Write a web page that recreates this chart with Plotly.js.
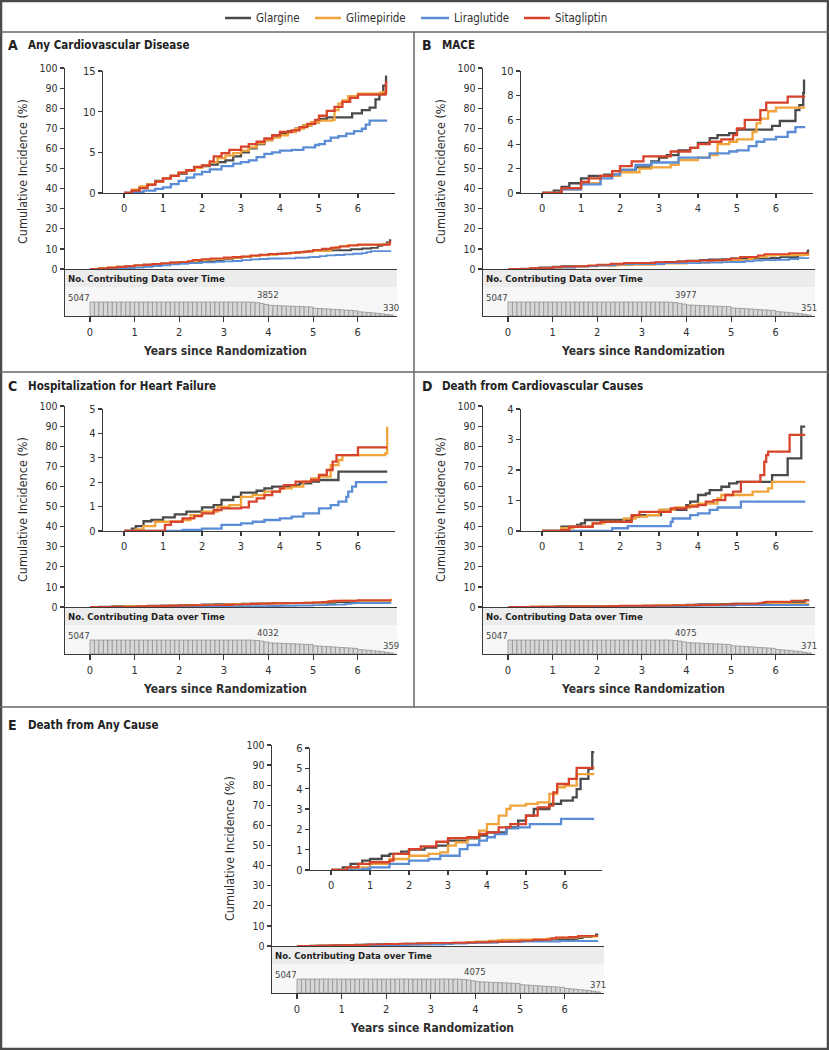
<!DOCTYPE html>
<html><head><meta charset="utf-8">
<script src="https://cdn.plot.ly/plotly-3.0.1.min.js"></script>
<style>html,body{margin:0;padding:0;background:#fff}</style>
</head><body>
<div id="chart" style="width:829px;height:1050px"></div>
<script>
// ---------------- DATA ----------------
const seriesNames = ['Glargine', 'Glimepiride', 'Liraglutide', 'Sitagliptin'];
const seriesColors = ['#4a4a4a', '#f0a43a', '#5b8dd6', '#d8432b'];
const xTicks = [0, 1, 2, 3, 4, 5, 6];

// Panel A: Any Cardiovascular Disease
const aGlargineT = [0,0.2,0.4,0.6,0.8,1.0,1.2,1.4,1.6,1.8,2.0,2.2,2.4,2.6,2.8,3.0,3.2,3.4,3.6,3.8,4.0,4.2,4.4,4.6,4.8,5.0,5.2,5.85,6.1,6.3,6.45,6.55,6.65,6.72,6.75];
const aGlargineY = [0,0.3,0.7,1.1,1.5,1.8,2.1,2.4,2.8,3.1,3.3,3.5,3.8,4.0,4.5,5.0,5.5,6.0,6.5,6.9,7.3,7.6,7.9,8.3,8.7,9.1,9.3,9.8,10.2,10.5,11.5,12.2,13.2,14.3,14.3];
const aGlimepirideT = [0,0.2,0.4,0.6,0.8,1.0,1.2,1.4,1.6,1.8,2.0,2.2,2.4,2.6,2.8,3.0,3.2,3.4,3.6,3.8,4.0,4.2,4.4,4.6,4.8,5.0,5.35,5.4,5.5,5.6,5.75,6.0,6.6,6.72,6.75];
const aGlimepirideY = [0,0.4,0.8,1.1,1.4,1.8,2.1,2.5,2.8,3.1,3.4,3.8,4.3,4.6,4.9,5.2,5.6,6.1,6.5,6.8,7.1,7.5,7.9,8.3,8.7,8.9,9.0,10.2,11.0,11.4,11.9,12.2,12.4,13.0,13.0];
const aLiraglutideT = [0,0.3,0.5,0.8,1.0,1.2,1.4,1.6,1.8,2.0,2.2,2.5,2.8,3.0,3.2,3.4,3.6,3.8,4.0,4.3,4.6,4.9,5.0,5.15,5.3,5.5,5.7,5.9,6.1,6.2,6.3,6.75];
const aLiraglutideY = [0,0.1,0.3,0.5,0.7,1.1,1.5,1.9,2.3,2.6,2.9,3.3,3.6,3.8,4.0,4.4,4.8,5.0,5.2,5.3,5.6,5.9,6.0,6.4,6.8,7.0,7.3,7.6,7.9,8.4,8.9,8.9];
const aSitagliptinT = [0,0.2,0.4,0.6,0.8,1.0,1.2,1.4,1.6,1.8,2.0,2.2,2.3,2.5,2.7,3.0,3.2,3.4,3.6,3.8,4.0,4.3,4.5,4.7,4.9,5.0,5.2,5.4,5.6,5.8,6.0,6.7,6.72,6.75];
const aSitagliptinY = [0,0.3,0.6,1.0,1.4,1.8,2.1,2.5,2.8,3.2,3.4,3.9,4.5,4.9,5.3,5.7,6.0,6.3,6.7,7.1,7.5,7.7,8.1,8.5,9.0,9.5,10.1,10.6,11.2,11.7,12.1,12.2,13.6,13.6];

// Panel B: MACE
const bGlargineT = [0,0.3,0.5,0.7,1.0,1.2,1.6,2.0,2.4,2.8,3.0,3.2,3.5,3.8,4.0,4.3,4.5,4.8,5.0,5.9,6.1,6.5,6.6,6.7,6.72,6.75];
const bGlargineY = [0,0.2,0.5,0.8,1.2,1.4,1.5,1.9,2.1,2.6,2.9,3.1,3.5,3.7,4.1,4.5,4.75,4.9,5.2,5.5,5.9,6.8,7.2,8.2,9.2,9.2];
const bGlimepirideT = [0,0.5,1.0,1.5,2.0,2.5,2.8,3.3,3.5,4.0,4.3,4.5,4.8,5.0,5.4,5.5,5.6,5.8,6.0,6.75];
const bGlimepirideY = [0,0.3,0.8,1.4,1.7,2.0,2.1,2.3,2.7,2.9,3.1,4.0,4.2,4.4,5.0,5.7,6.1,6.7,7.0,7.0];
const bLiraglutideT = [0,0.5,1.0,1.5,1.8,2.0,2.4,2.8,3.5,4.3,4.8,5.0,5.3,5.5,5.7,6.0,6.3,6.5,6.75];
const bLiraglutideY = [0,0.3,0.7,1.2,1.5,1.9,2.3,2.5,2.9,3.25,3.4,3.5,3.85,4.2,4.4,4.6,5.0,5.4,5.4];
const bSitagliptinT = [0,0.5,1.0,1.2,1.5,1.8,2.0,2.3,2.6,3.3,3.8,4.0,4.3,4.6,4.9,5.0,5.2,5.6,5.75,6.3,6.75];
const bSitagliptinY = [0,0.4,0.9,1.2,1.4,1.8,2.2,2.6,3.0,3.4,3.7,4.0,4.2,4.4,4.75,5.3,6.0,6.8,7.4,7.9,7.9];

// Panel C: Hospitalization for Heart Failure
const cGlargineT = [0,0.2,0.3,0.5,0.7,1.0,1.3,1.6,2.0,2.3,2.5,2.8,3.0,3.4,3.6,3.8,4.3,4.5,4.8,5.0,5.5,6.75];
const cGlargineY = [0,0.1,0.2,0.4,0.45,0.56,0.68,0.79,0.97,1.06,1.27,1.4,1.57,1.65,1.75,1.82,1.88,1.95,2.02,2.09,2.43,2.43];
const cGlimepirideT = [0,0.3,0.5,0.8,1.5,1.7,2.0,2.4,2.7,3.0,3.3,3.6,4.0,4.3,4.6,4.8,5.0,5.3,5.5,5.6,6.7,6.75];
const cGlimepirideY = [0,0.07,0.2,0.38,0.45,0.65,0.79,0.99,1.06,1.4,1.47,1.61,1.75,1.82,2.02,2.16,2.23,2.7,2.91,3.11,3.18,4.27];
const cLiraglutideT = [0,1.0,1.5,2.0,2.5,3.0,3.3,3.6,4.0,4.3,4.6,5.0,5.3,5.5,5.7,5.75,5.85,5.95,6.75];
const cLiraglutideY = [0,0,0.04,0.1,0.25,0.31,0.38,0.45,0.52,0.59,0.72,0.93,1.06,1.2,1.4,1.61,1.82,2.0,2.0];
const cSitagliptinT = [0,1.0,1.05,1.2,1.5,1.8,2.0,2.3,2.5,3.0,3.2,3.4,3.6,3.8,4.0,4.1,4.4,4.8,5.0,5.2,5.35,5.45,6.0,6.75];
const cSitagliptinY = [0,0,0.25,0.38,0.52,0.61,0.72,0.86,0.93,0.97,1.2,1.34,1.47,1.61,1.75,1.88,2.02,2.09,2.3,2.5,2.84,3.11,3.43,3.43];

// Panel D: Death from Cardiovascular Causes
const dGlargineT = [0,0.5,0.9,1.0,1.1,2.3,2.5,3.05,3.7,3.8,4.0,4.2,4.3,4.6,4.8,5.0,5.9,6.3,6.65,6.75];
const dGlargineY = [0,0.14,0.2,0.25,0.36,0.47,0.52,0.69,0.85,0.96,1.18,1.23,1.34,1.45,1.56,1.61,1.83,2.38,3.42,3.42];
const dGlimepirideT = [0,0.5,0.8,1.3,1.6,2.1,2.4,2.7,3.0,3.4,3.8,4.0,4.5,4.6,5.4,5.8,5.9,6.75];
const dGlimepirideY = [0,0.09,0.14,0.25,0.3,0.41,0.47,0.52,0.69,0.77,0.85,0.9,1.07,1.18,1.29,1.4,1.61,1.61];
const dLiraglutideT = [0,1.8,2.2,3.3,3.35,3.8,4.0,4.3,4.5,5.1,6.75];
const dLiraglutideY = [0,0.09,0.16,0.3,0.41,0.52,0.58,0.69,0.77,0.96,0.96];
const dSitagliptinT = [0,0.5,0.7,1.3,1.5,2.3,2.5,3.3,3.7,4.0,4.2,4.4,4.7,4.9,5.1,5.6,5.7,5.75,5.8,6.35,6.75];
const dSitagliptinY = [0,0.03,0.14,0.25,0.3,0.52,0.63,0.74,0.8,0.85,0.96,1.01,1.18,1.29,1.61,1.83,2.27,2.49,2.6,3.15,3.15];

// Panel E: Death from Any Cause
const eGlargineT = [0,0.3,0.5,0.8,1.0,1.3,1.5,1.8,2.0,2.4,2.7,3.0,3.5,3.8,4.0,4.5,4.8,5.0,5.2,5.6,5.9,6.2,6.3,6.4,6.6,6.7,6.75];
const eGlargineY = [0,0.13,0.3,0.46,0.54,0.7,0.79,0.9,1.0,1.1,1.2,1.44,1.56,1.69,1.85,2.1,2.43,2.67,3.0,3.25,3.41,3.57,3.98,4.48,4.97,5.8,5.8];
const eGlimepirideT = [0,0.5,1.0,1.5,2.0,2.5,2.8,3.0,3.2,3.5,3.8,4.0,4.3,4.5,4.6,5.0,5.3,5.6,5.8,6.0,6.3,6.75];
const eGlimepirideY = [0,0.13,0.3,0.54,0.7,0.79,0.87,1.2,1.36,1.61,1.94,2.26,2.67,3.0,3.17,3.25,3.33,3.74,4.07,4.15,4.72,4.72];
const eLiraglutideT = [0,0.8,1.0,1.5,2.0,2.5,2.8,3.3,3.5,3.8,4.0,4.2,4.5,4.8,5.1,5.9,6.75];
const eLiraglutideY = [0,0.05,0.13,0.3,0.46,0.54,0.7,1.03,1.23,1.44,1.61,1.77,2.05,2.1,2.26,2.51,2.51];
const eSitagliptinT = [0,0.4,0.7,1.0,1.5,1.6,2.0,2.3,2.7,3.0,3.5,3.8,4.0,4.3,4.6,5.0,5.3,5.6,5.7,5.8,6.1,6.3,6.75];
const eSitagliptinY = [0,0.13,0.3,0.38,0.46,0.79,1.03,1.16,1.39,1.57,1.61,1.77,1.85,2.1,2.26,2.67,3.08,3.17,3.82,4.23,4.48,5.02,5.02];

// No. contributing data over time (bin start years, 0.1-year bins)
const histYears = [0,0.1,0.2,0.3,0.4,0.5,0.6,0.7,0.8,0.9,1.0,1.1,1.2,1.3,1.4,1.5,1.6,1.7,1.8,1.9,2.0,2.1,2.2,2.3,2.4,2.5,2.6,2.7,2.8,2.9,3.0,3.1,3.2,3.3,3.4,3.5,3.6,3.7,3.8,3.9,4.0,4.1,4.2,4.3,4.4,4.5,4.6,4.7,4.8,4.9,5.0,5.1,5.2,5.3,5.4,5.5,5.6,5.7,5.8,5.9,6.0,6.1,6.2,6.3,6.4,6.5,6.6,6.7];
const countsA = [5047,5047,5047,5047,5047,5047,5047,5047,5047,5047,5047,5047,5047,5047,5047,5047,5047,5047,5047,5047,5047,5047,5047,5047,5047,5047,5047,5047,5047,5047,5047,5047,5047,5047,5047,5047,4950,4800,4500,4200,3852,3800,3720,3650,3600,3520,3450,3400,3320,3250,2800,2700,2600,2520,2400,2300,2200,2100,2000,1900,1500,1380,1250,1100,950,800,560,330];
const countsB = [5047,5047,5047,5047,5047,5047,5047,5047,5047,5047,5047,5047,5047,5047,5047,5047,5047,5047,5047,5047,5047,5047,5047,5047,5047,5047,5047,5047,5047,5047,5047,5047,5047,5047,5047,5047,4960,4850,4600,4300,3977,3920,3850,3780,3720,3650,3580,3520,3450,3380,2900,2800,2700,2620,2500,2400,2300,2200,2100,1980,1580,1450,1310,1160,1000,840,590,351];
const countsC = [5047,5047,5047,5047,5047,5047,5047,5047,5047,5047,5047,5047,5047,5047,5047,5047,5047,5047,5047,5047,5047,5047,5047,5047,5047,5047,5047,5047,5047,5047,5047,5047,5047,5047,5047,5047,4970,4870,4650,4350,4032,3970,3900,3830,3770,3700,3630,3570,3500,3420,2950,2850,2750,2660,2540,2440,2340,2240,2130,2010,1600,1470,1330,1180,1020,860,600,359];
const countsDE = [5047,5047,5047,5047,5047,5047,5047,5047,5047,5047,5047,5047,5047,5047,5047,5047,5047,5047,5047,5047,5047,5047,5047,5047,5047,5047,5047,5047,5047,5047,5047,5047,5047,5047,5047,5047,4980,4880,4680,4380,4075,4010,3940,3870,3800,3730,3660,3600,3530,3450,2980,2880,2780,2690,2570,2470,2360,2260,2150,2030,1620,1490,1350,1200,1040,870,610,371];

// ---------------- DRAWING ----------------
const FONT = "'Liberation Sans Narrow','DejaVu Sans Condensed','Arial Narrow',sans-serif";
const W = 829, H = 1050;
const fx = p => p / W;
const fy = p => 1 - p / H;
const AX = '#3a3a3a', TXT = '#2f2f2f';

const panels = [
  {letter:'A', title:'Any Cardiovascular Disease', left:0, dx:0, dy:0, titleY:45, ymax:15, dtick:5, counts:countsA,
   T:[aGlargineT,aGlimepirideT,aLiraglutideT,aSitagliptinT], Y:[aGlargineY,aGlimepirideY,aLiraglutideY,aSitagliptinY]},
  {letter:'B', title:'MACE', left:414, dx:418, dy:0, titleY:45, ymax:10, dtick:2, counts:countsB,
   T:[bGlargineT,bGlimepirideT,bLiraglutideT,bSitagliptinT], Y:[bGlargineY,bGlimepirideY,bLiraglutideY,bSitagliptinY]},
  {letter:'C', title:'Hospitalization for Heart Failure', left:0, dx:0, dy:338, titleY:386, ymax:5, dtick:1, counts:countsC,
   T:[cGlargineT,cGlimepirideT,cLiraglutideT,cSitagliptinT], Y:[cGlargineY,cGlimepirideY,cLiraglutideY,cSitagliptinY]},
  {letter:'D', title:'Death from Cardiovascular Causes', left:414, dx:418, dy:338, titleY:386, ymax:4, dtick:1, counts:countsDE,
   T:[dGlargineT,dGlimepirideT,dLiraglutideT,dSitagliptinT], Y:[dGlargineY,dGlimepirideY,dLiraglutideY,dSitagliptinY]},
  {letter:'E', title:'Death from Any Cause', left:0, dx:207, dy:677, titleY:725, ymax:6, dtick:1, counts:countsDE,
   T:[eGlargineT,eGlimepirideT,eLiraglutideT,eSitagliptinT], Y:[eGlargineY,eGlimepirideY,eLiraglutideY,eSitagliptinY]}
];

const traces = [];
const shapes = [];
const annotations = [];
const layout = {
  width: W, height: H, margin: {l:0, r:0, t:0, b:0},
  paper_bgcolor: '#fff', plot_bgcolor: 'rgba(0,0,0,0)',
  showlegend: false, font: {family: FONT, color: TXT, size: 11}
};

const MAIN_X = [-0.56, 6.88], INSET_X = [-0.54, 6.95];
const HIST_MAX = 16600;

function baseAxis(extra) {
  return Object.assign({showline:true, linecolor:AX, linewidth:1.3, showgrid:false, zeroline:false,
    ticks:'outside', tickcolor:AX, tickwidth:1.2, ticklen:4, fixedrange:true,
    tickfont:{family:FONT, size:11, color:TXT}}, extra);
}

panels.forEach((p, i) => {
  const n1 = 3*i+1, n2 = 3*i+2, n3 = 3*i+3;
  const s = n => (n === 1 ? '' : String(n));
  const dx = p.dx, dy = p.dy;

  // main axes (0-100)
  layout['xaxis'+s(n1)] = baseAxis({domain:[fx(65+dx), fx(397+dx)], range:MAIN_X, anchor:'y'+s(n1), ticks:'', showticklabels:false});
  layout['yaxis'+s(n1)] = baseAxis({domain:[fy(269+dy), fy(68+dy)], range:[0,100], dtick:10, anchor:'x'+s(n1), tickfont:{family:FONT, size:10.5, color:TXT}});
  // inset axes
  layout['xaxis'+s(n2)] = baseAxis({domain:[fx(103+dx), fx(395+dx)], range:INSET_X, anchor:'y'+s(n2), tickmode:'array', tickvals:xTicks});
  layout['yaxis'+s(n2)] = baseAxis({domain:[fy(193+dy), fy(71+dy)], range:[0,p.ymax], dtick:p.dtick, anchor:'x'+s(n2)});
  // histogram axes
  layout['xaxis'+s(n3)] = baseAxis({domain:[fx(65+dx), fx(397+dx)], range:MAIN_X, anchor:'y'+s(n3), tickmode:'array', tickvals:xTicks, ticklen:5});
  layout['yaxis'+s(n3)] = baseAxis({domain:[fy(316+dy), fy(270+dy)], range:[0,HIST_MAX], anchor:'x'+s(n3), ticks:'', showticklabels:false});

  // curves
  for (let k = 0; k < 4; k++) {
    traces.push({type:'scatter', mode:'lines', x:p.T[k], y:p.Y[k], xaxis:'x'+s(n1), yaxis:'y'+s(n1),
      line:{shape:'hv', color:seriesColors[k], width:1.9}, name:seriesNames[k], hoverinfo:'skip'});
  }
  for (let k = 0; k < 4; k++) {
    traces.push({type:'scatter', mode:'lines', x:p.T[k], y:p.Y[k], xaxis:'x'+s(n2), yaxis:'y'+s(n2),
      line:{shape:'hv', color:seriesColors[k], width:2.3}, name:seriesNames[k], hoverinfo:'skip'});
  }
  // contributing data bars
  traces.push({type:'bar', x:histYears, y:p.counts, width:0.1, offset:0, xaxis:'x'+s(n3), yaxis:'y'+s(n3),
    marker:{color:'#d8d8d8', line:{color:'#929292', width:0.8}}, hoverinfo:'skip'});

  // band backgrounds
  shapes.push({type:'rect', xref:'paper', yref:'paper', layer:'below', x0:fx(65+dx), x1:fx(397+dx), y0:fy(287+dy), y1:fy(270+dy), fillcolor:'#ececec', line:{width:0}});
  shapes.push({type:'rect', xref:'paper', yref:'paper', layer:'below', x0:fx(65+dx), x1:fx(397+dx), y0:fy(316+dy), y1:fy(287+dy), fillcolor:'#f7f7f7', line:{width:0}});

  // titles
  annotations.push({xref:'paper', yref:'paper', x:fx(p.left+6), y:fy(p.titleY), xanchor:'left', yanchor:'middle', showarrow:false,
    text:'<b>'+p.letter+'</b>', font:{family:FONT, size:14, color:'#222'}});
  annotations.push({xref:'paper', yref:'paper', x:fx(p.left+26), y:fy(p.titleY), xanchor:'left', yanchor:'middle', showarrow:false,
    text:'<b>'+p.title+'</b>', font:{family:FONT, size:11.5, color:'#222'}});
  annotations.push({xref:'paper', yref:'paper', x:fx(22+dx), y:fy(172+dy), xanchor:'center', yanchor:'middle', showarrow:false,
    textangle:-90, text:'Cumulative Incidence (%)', font:{family:FONT, size:12.5, color:TXT}});
  annotations.push({xref:'paper', yref:'paper', x:fx(225+dx), y:fy(351+dy), xanchor:'center', yanchor:'middle', showarrow:false,
    text:'<b>Years since Randomization</b>', font:{family:FONT, size:12, color:TXT}});
  annotations.push({xref:'paper', yref:'paper', x:fx(66+dx), y:fy(278+dy), xanchor:'left', yanchor:'middle', showarrow:false,
    text:'<b>No. Contributing Data over Time</b>', font:{family:FONT, size:9.5, color:'#222'}});
  // count labels
  const last = p.counts.length - 1;
  annotations.push({xref:'paper', yref:'y'+s(n3), x:fx(66+dx), y:p.counts[0], xanchor:'left', yanchor:'bottom', yshift:-3,
    showarrow:false, text:String(p.counts[0]), font:{family:FONT, size:9.5, color:'#444'}});
  annotations.push({xref:'x'+s(n3), yref:'y'+s(n3), x:histYears[40], y:p.counts[40], xanchor:'center', yanchor:'bottom', yshift:3,
    showarrow:false, text:String(p.counts[40]), font:{family:FONT, size:9.5, color:'#444'}});
  annotations.push({xref:'x'+s(n3), yref:'y'+s(n3), x:MAIN_X[1], y:p.counts[last], xanchor:'right', yanchor:'bottom', xshift:4,
    showarrow:false, text:String(p.counts[last]), font:{family:FONT, size:9.5, color:'#444'}});
});

// legend (custom, top row)
const legLine = [[225,251],[315,341],[421,449],[524,550]];
seriesNames.forEach((nm, k) => {
  shapes.push({type:'line', xref:'paper', yref:'paper', x0:fx(legLine[k][0]), x1:fx(legLine[k][1]), y0:fy(18), y1:fy(18),
    line:{color:seriesColors[k], width:2.5}});
  annotations.push({xref:'paper', yref:'paper', x:fx(legLine[k][1]+3), y:fy(18), xanchor:'left', yanchor:'middle', showarrow:false,
    text:nm, font:{family:FONT, size:11.5, color:TXT}});
});

// frame and dividers
shapes.push({type:'rect', xref:'paper', yref:'paper', x0:fx(1), x1:fx(828), y0:fy(1049), y1:fy(1), line:{color:'#4a4a4a', width:2.5}});
[32, 372, 707].forEach(yy => shapes.push({type:'line', xref:'paper', yref:'paper', x0:0, x1:1, y0:fy(yy), y1:fy(yy), line:{color:'#666', width:1.5}}));
shapes.push({type:'line', xref:'paper', yref:'paper', x0:fx(414), x1:fx(414), y0:fy(32), y1:fy(707), line:{color:'#666', width:1.5}});

layout.shapes = shapes;
layout.annotations = annotations;

Plotly.newPlot('chart', traces, layout, {displayModeBar:false, staticPlot:true});
</script>
</body></html>
